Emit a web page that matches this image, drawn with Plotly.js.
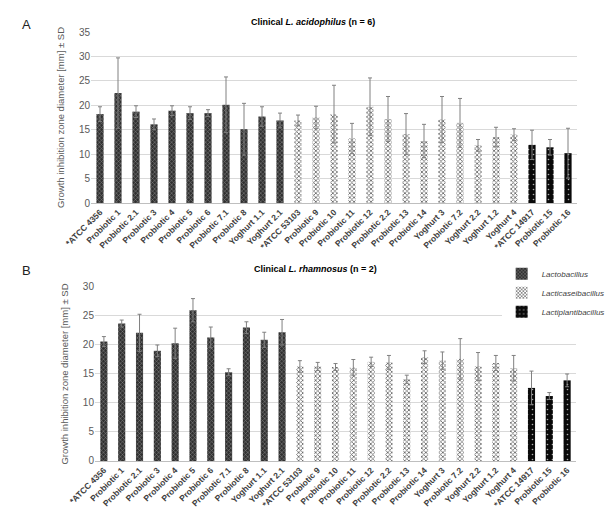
<!DOCTYPE html>
<html>
<head>
<meta charset="utf-8">
<script src="https://cdn.plot.ly/plotly-3.0.1.min.js"></script>
<style>html,body{margin:0;padding:0;background:#fff;}#chart{width:612px;height:512px;}</style>
</head>
<body>
<div id="chart"></div>
<script>
const categories = ['*ATCC 4356','Probiotic 1','Probiotic 2.1','Probiotic 3','Probiotic 4','Probiotic 5','Probiotic 6','Probiotic 7.1','Probiotic 8','Yoghurt 1.1','Yoghurt 2.1','*ATCC 53103','Probiotic 9','Probiotic 10','Probiotic 11','Probiotic 12','Probiotic 2.2','Probiotic 13','Probiotic 14','Yoghurt 3','Probiotic 7.2','Yoghurt 2.2','Yoghurt 1.2','Yoghurt 4','*ATCC 14917','Probiotic 15','Probiotic 16'];
const genus = ['Lactobacillus','Lactobacillus','Lactobacillus','Lactobacillus','Lactobacillus','Lactobacillus','Lactobacillus','Lactobacillus','Lactobacillus','Lactobacillus','Lactobacillus',
  'Lacticaseibacillus','Lacticaseibacillus','Lacticaseibacillus','Lacticaseibacillus','Lacticaseibacillus','Lacticaseibacillus','Lacticaseibacillus','Lacticaseibacillus','Lacticaseibacillus','Lacticaseibacillus','Lacticaseibacillus','Lacticaseibacillus','Lacticaseibacillus',
  'Lactiplantibacillus','Lactiplantibacillus','Lactiplantibacillus'];
const genera = ['Lactobacillus','Lacticaseibacillus','Lactiplantibacillus'];

// Panel A: clinical L. acidophilus (n = 6)
const acidophilusMean = [18.2, 22.5, 18.7, 16.1, 18.9, 18.4, 18.4, 20.1, 15.1, 17.7, 16.9, 16.9, 17.5, 18.2, 13.2, 19.7, 17.2, 14.1, 12.7, 17.1, 16.4, 11.8, 13.5, 14.0, 11.9, 11.4, 10.2];
const acidophilusSD   = [1.5, 7.2, 1.2, 1.1, 1.0, 1.3, 0.7, 5.7, 5.3, 2.0, 1.5, 1.1, 2.3, 5.9, 3.1, 5.9, 4.6, 4.2, 3.4, 4.7, 5.0, 1.2, 2.0, 1.2, 3.0, 1.6, 5.1];

// Panel B: clinical L. rhamnosus (n = 2)
const rhamnosusMean = [20.6, 23.7, 22.1, 19.0, 20.3, 26.0, 21.3, 15.3, 23.0, 20.9, 22.2, 16.3, 16.3, 16.2, 16.1, 17.1, 17.0, 14.1, 17.9, 17.3, 17.6, 16.3, 16.9, 16.0, 12.6, 11.2, 13.9];
const rhamnosusSD   = [0.85, 0.6, 3.2, 1.0, 2.6, 2.0, 1.8, 0.6, 1.0, 1.3, 2.2, 1.0, 0.7, 0.6, 1.4, 0.8, 1.2, 0.7, 1.1, 1.5, 3.5, 2.4, 1.3, 2.2, 2.9, 0.6, 1.1];

const styles = {
  'Lactobacillus':      {color:'#3c3c3c', pattern:{shape:'x', bgcolor:'#303030', fgcolor:'#8c8c8c', size:3, solidity:0.3, fillmode:'replace'}},
  'Lacticaseibacillus': {color:'#ffffff', pattern:{shape:'x', bgcolor:'#ffffff', fgcolor:'#5e5e5e', size:3, solidity:0.45, fillmode:'replace'}},
  'Lactiplantibacillus':{color:'#111111', pattern:{shape:'.', bgcolor:'#0a0a0a', fgcolor:'#b0b0b0', size:5, solidity:0.08, fillmode:'replace'}}
};

const traces = [];
function addPanel(means, sds, xa, ya, showLegend) {
  genera.forEach(g => {
    const idx = categories.map((c, i) => i).filter(i => genus[i] === g);
    traces.push({
      type: 'bar',
      name: '<i>' + g + '</i>',
      legendgroup: g,
      showlegend: showLegend,
      x: idx.map(i => categories[i]),
      y: idx.map(i => means[i]),
      xaxis: xa, yaxis: ya,
      marker: {color: styles[g].color, line: {width: 0}, pattern: styles[g].pattern},
      error_y: {type: 'data', array: idx.map(i => sds[i]), visible: true, color: '#808080', thickness: 1, width: 2}
    });
  });
}
addPanel(acidophilusMean, acidophilusSD, 'x', 'y', false);
addPanel(rhamnosusMean, rhamnosusSD, 'x2', 'y2', true);

const tickFontX = {family: 'Liberation Sans, Arial', size: 8.5, color: '#404040', weight: 'bold'};
const tickFontY = {family: 'Liberation Sans, Arial', size: 10, color: '#595959'};
const yTitle = {text: 'Growth inhibition zone diameter [mm] ± SD', font: {family: 'Liberation Sans, Arial', size: 9.5, color: '#595959'}, standoff: 12};

const xBase = {type: 'category', categoryorder: 'array', categoryarray: categories, tickangle: -45, tickfont: tickFontX,
  showgrid: false, showline: true, linecolor: '#bfbfbf', linewidth: 1, ticks: '', automargin: false, fixedrange: true};
const yBase = {showgrid: true, gridcolor: '#d9d9d9', gridwidth: 1, zeroline: false, showline: false, ticks: '',
  tickfont: tickFontY, dtick: 5, automargin: false, title: yTitle};

const layout = {
  width: 612, height: 512,
  margin: {l: 91, r: 35, t: 32, b: 51, autoexpand: false},
  paper_bgcolor: '#ffffff', plot_bgcolor: '#ffffff',
  barmode: 'overlay', bargap: 0.6,
  xaxis: Object.assign({}, xBase, {domain: [0, 1], anchor: 'y'}),
  yaxis: Object.assign({}, yBase, {domain: [0.6014, 1], range: [0, 35], anchor: 'x'}),
  xaxis2: Object.assign({}, xBase, {domain: [0.0082, 0.998], anchor: 'y2'}),
  yaxis2: Object.assign({}, yBase, {domain: [0, 0.4056], range: [0, 30], anchor: 'x2'}),
  legend: {x: 0.845, y: 0.47, xanchor: 'left', yanchor: 'top', bgcolor: '#ffffff',
    font: {family: 'Liberation Sans, Arial', size: 8, color: '#404040'}, tracegroupgap: 0, itemwidth: 30},
  annotations: [
    {xref: 'paper', yref: 'paper', x: 0.457, y: 1.0396, text: '<b>Clinical <i>L. acidophilus</i> (n = 6)</b>', showarrow: false,
      font: {family: 'Liberation Sans, Arial', size: 9, color: '#000'}},
    {xref: 'paper', yref: 'paper', x: 0.461, y: 0.4476, text: '<b>Clinical <i>L. rhamnosus</i> (n = 2)</b>', showarrow: false,
      font: {family: 'Liberation Sans, Arial', size: 9, color: '#000'}},
    {xref: 'paper', yref: 'paper', x: -0.146, y: 1.04, text: 'A', showarrow: false,
      font: {family: 'Liberation Sans, Arial', size: 13, color: '#222'}},
    {xref: 'paper', yref: 'paper', x: -0.146, y: 0.443, text: 'B', showarrow: false,
      font: {family: 'Liberation Sans, Arial', size: 13, color: '#222'}}
  ]
};

Plotly.newPlot('chart', traces, layout, {staticPlot: true, displayModeBar: false});
</script>
</body>
</html>
